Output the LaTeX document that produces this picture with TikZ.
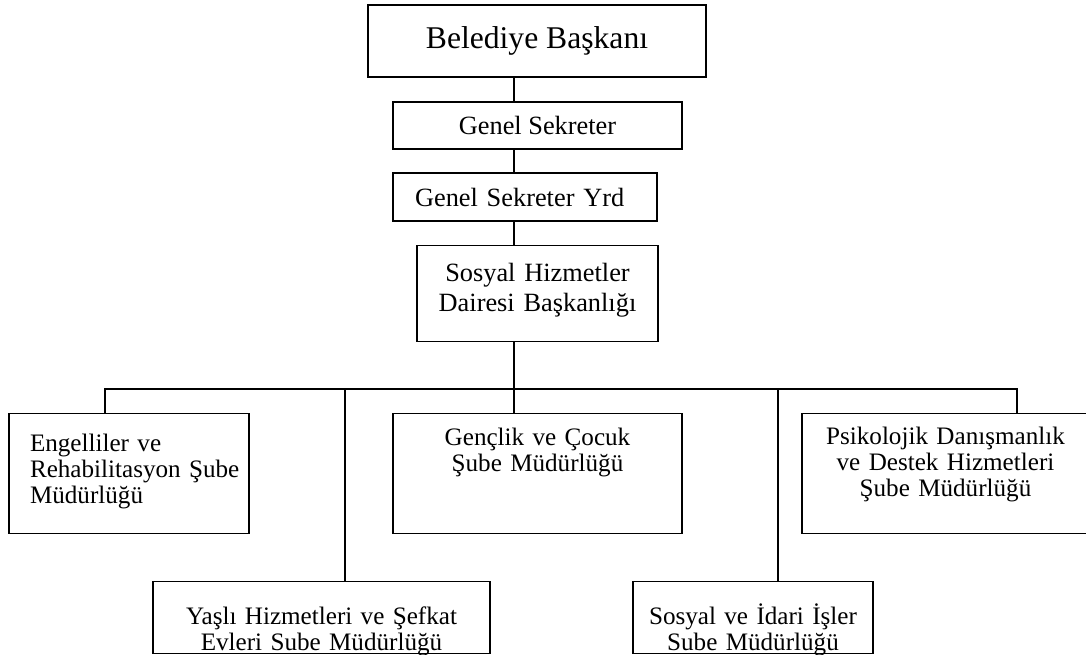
\documentclass[tikz,border=0pt]{standalone}
\usepackage{fontspec}
\setmainfont{Liberation Serif}
\usetikzlibrary{positioning}
\tikzset{box/.style = {draw, rectangle, line width=0.75pt, inner ysep=0pt, inner xsep=0.08cm, align=center},
         unit/.style = {box, anchor=north, font=\fontsize{14.3}{14.8}\selectfont},
         link/.style = {line width=0.75pt}}

\begin{document}
\begin{tikzpicture}[x=0.02cm, y=-0.02cm]
    \useasboundingbox (0,0) rectangle (1086,655);

    % upper chain
    \node [box, minimum width=6.76cm, minimum height=1.44cm, font=\fontsize{18}{20}\selectfont] (baskan) at (537, 41) {Belediye Başkanı};
    \node [box, minimum width=5.78cm, minimum height=0.94cm, font=\fontsize{15}{17}\selectfont] (genel) at (537.5, 125.5) {Genel Sekreter};
    \node [box, align=left, inner xsep=0.44cm, text width=4.40cm, minimum height=0.96cm, font=\fontsize{15}{17}\selectfont] (yrd) at (525, 197) {Genel Sekreter Yrd};
    \node [box, anchor=north, text width=4.66cm, text height=0.72cm, text depth=1.20cm, font=\fontsize{15}{17}\selectfont] (daire) at (537.5, 245) {Sosyal Hizmetler\\Dairesi Başkanlığı};

    % branches
    \node [unit, align=left, inner xsep=0.42cm, text width=3.96cm, text height=0.76cm, text depth=1.64cm] (engel) at (129, 413) {Engelliler ve\\Rehabilitasyon~Şube\\Müdürlüğü};
    \node [unit, text width=5.62cm, text height=0.64cm, text depth=1.76cm] (genc) at (537.5, 413) {Gençlik ve Çocuk\\Şube Müdürlüğü};
    \node [unit, text width=5.58cm, text height=0.62cm, text depth=1.78cm] (psiko) at (945.5, 413) {Psikolojik Danışmanlık\\ve Destek Hizmetleri\\Şube Müdürlüğü};
    \node [unit, text width=6.58cm, text height=0.86cm, text depth=0.58cm] (yasli) at (321.5, 581) {Yaşlı Hizmetleri ve Şefkat\\Evleri Sube Müdürlüğü};
    \node [unit, text width=4.64cm, text height=0.86cm, text depth=0.58cm] (idari) at (753, 581) {Sosyal ve İdari İşler\\Sube Müdürlüğü};

    \coordinate (spine) at (514, 0);
    \coordinate (bus) at (514, 389);
    \coordinate (jA) at (105, 389);
    \coordinate (jB) at (345, 389);
    \coordinate (jD) at (778, 389);
    \coordinate (jE) at (1017, 389);

    \draw [link] (baskan.south -| spine) -- (genel.north -| spine);
    \draw [link] (genel.south -| spine) -- (yrd.north -| spine);
    \draw [link] (yrd.south -| spine) -- (daire.north -| spine);
    \draw [link] (daire.south -| bus) -- (bus);
    \draw [link] (engel.north -| jA) -- (jA) -- (jE) -- (psiko.north -| jE);
    \draw [link] (bus) -- (genc.north -| bus);
    \draw [link] (jB) -- (yasli.north -| jB);
    \draw [link] (jD) -- (idari.north -| jD);
\end{tikzpicture}
\end{document}
